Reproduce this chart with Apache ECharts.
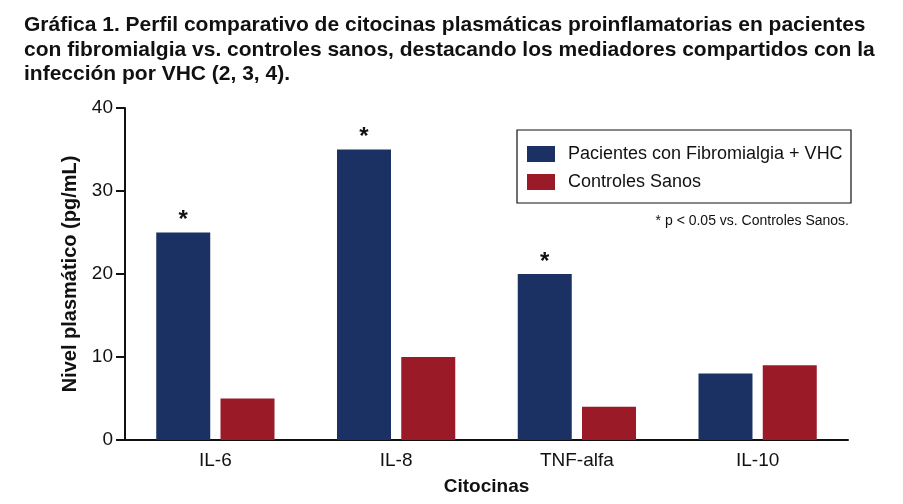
<!DOCTYPE html>
<html>
<head>
<meta charset="utf-8">
<script src="https://cdn.jsdelivr.net/npm/echarts@6/dist/echarts.min.js"></script>
<style>
  html, body { margin: 0; padding: 0; background: #fff; }
  #chart { width: 903px; height: 504px; }
</style>
</head>
<body>
<div id="chart"></div>
<script>
// datos
const citocinas = ['IL-6', 'IL-8', 'TNF-alfa', 'IL-10'];
const pacientes = [25, 35, 20, 8];
const controles = [5, 10, 4, 9];
const significativo = [true, true, true, false];
const yTicks = [0, 10, 20, 30, 40];

const azul = '#1b3163';
const rojo = '#9a1a28';
const fuente = '"Liberation Sans", Arial, Helvetica, sans-serif';

const chart = echarts.init(document.getElementById('chart'));

const option = {
  animation: false,
  textStyle: { fontFamily: fuente },
  title: {
    text: 'Gráfica 1. Perfil comparativo de citocinas plasmáticas proinflamatorias en pacientes\ncon fibromialgia vs. controles sanos, destacando los mediadores compartidos con la\ninfección por VHC (2, 3, 4).',
    left: 19,
    top: 8,
    textStyle: {
      fontFamily: fuente,
      fontWeight: 'bold',
      fontSize: 21,
      lineHeight: 24.5,
      color: '#111'
    }
  },
  grid: { left: 125, right: 55, top: 108, bottom: 64, containLabel: false },
  legend: {
    orient: 'vertical',
    left: 522,
    top: 140,
    itemWidth: 28,
    itemHeight: 16,
    itemGap: 10,
    icon: 'rect',
    textStyle: { fontSize: 18, color: '#111', fontFamily: fuente, padding: [0, 0, 0, 8] },
    data: ['Pacientes con Fibromialgia + VHC', 'Controles Sanos']
  },
  graphic: [
    {
      type: 'rect',
      shape: { x: 517, y: 130, width: 334, height: 73 },
      style: { fill: 'none', stroke: '#111', lineWidth: 1.2 }
    },
    {
      type: 'text',
      right: 54,
      top: 214,
      style: { text: '* p < 0.05 vs. Controles Sanos.', fontSize: 14, fill: '#111', fontFamily: fuente }
    }
  ],
  xAxis: {
    type: 'category',
    data: citocinas,
    name: 'Citocinas',
    nameLocation: 'middle',
    nameGap: 37,
    nameTextStyle: { fontSize: 19, fontWeight: 'bold', color: '#111' },
    axisLine: { lineStyle: { color: '#111', width: 2 } },
    axisTick: { show: false },
    axisLabel: { fontSize: 19, color: '#111', margin: 11 }
  },
  yAxis: {
    type: 'value',
    min: yTicks[0],
    max: yTicks[yTicks.length - 1],
    interval: 10,
    name: 'Nivel plasmático (pg/mL)',
    nameLocation: 'middle',
    nameGap: 45,
    nameTextStyle: { fontSize: 20, fontWeight: 'bold', color: '#111' },
    axisLine: { show: true, lineStyle: { color: '#111', width: 2 } },
    axisTick: { show: true, length: 9, lineStyle: { color: '#111', width: 2 } },
    axisLabel: { fontSize: 19, color: '#111', margin: 12 },
    splitLine: { show: false }
  },
  series: [
    {
      name: 'Pacientes con Fibromialgia + VHC',
      type: 'bar',
      barWidth: 54,
      barGap: '19%',
      itemStyle: { color: azul },
      data: pacientes.map((v, i) => ({
        value: v,
        label: {
          show: significativo[i],
          position: 'top',
          distance: 0,
          formatter: '*',
          fontSize: 24,
          fontWeight: 'bold',
          color: '#111'
        }
      }))
    },
    {
      name: 'Controles Sanos',
      type: 'bar',
      barWidth: 54,
      itemStyle: { color: rojo },
      data: controles
    }
  ]
};

chart.setOption(option);
</script>
</body>
</html>
